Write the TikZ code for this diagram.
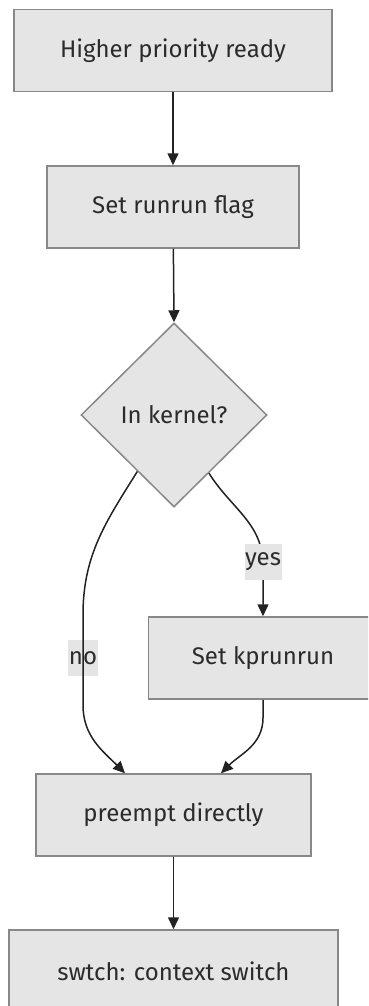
\documentclass[tikz,border=0pt]{standalone}
\usepackage{fontspec}
\setmainfont{Fira Sans}
\usetikzlibrary{shapes.geometric,arrows.meta,calc}
\definecolor{boxfill}{HTML}{E5E5E5}
\definecolor{boxline}{HTML}{888888}
\definecolor{ink}{HTML}{2B2B2B}
\definecolor{wire}{HTML}{222222}
\begin{document}
\begin{tikzpicture}[x=1pt,y=1pt,
  every node/.style={font=\fontsize{24}{28}\selectfont, text=ink},
  stepbox/.style={draw=boxline, fill=boxfill, line width=1.5pt, rectangle,
    inner sep=0pt, minimum height=82pt},
  decision/.style={draw=boxline, fill=boxfill, line width=1.5pt, diamond,
    inner sep=0pt, minimum width=186pt, minimum height=184pt},
  edgelabel/.style={fill=boxfill, inner sep=0.5pt, minimum height=36pt},
  flow/.style={draw=wire, line width=1.5pt, -{Triangle[length=12pt,width=11pt]}},
  plain/.style={draw=wire, line width=1.5pt}]
\useasboundingbox (0,0) rectangle (368,-1006);
\clip (0,0) rectangle (368,-1006);

% steps of the flow
\node[stepbox, minimum width=318pt] (ready) at (173,-50.5) {Higher priority ready};
\node[stepbox, minimum width=252pt] (runrun) at (173,-207) {Set runrun flag};
\node[decision] (kernel) at (174,-415) {In kernel?};
\node[stepbox, minimum width=229pt] (kprun) at (263,-658) {Set kprunrun};
\node[stepbox, minimum width=275pt] (preempt) at (173.5,-815) {preempt directly};
\node[stepbox, minimum width=329pt] (swtch) at (173.5,-971) {swtch: context switch};

% arrival points on the top of "preempt directly"
\coordinate (inL) at ($(preempt.north)+(-48.5,0)$);
\coordinate (inR) at ($(preempt.north)+(47.5,0)$);
\coordinate (noTop) at (83,-615);
\coordinate (noBot) at (83,-705);
\coordinate (yesBend) at (263,-565);
\coordinate (kpBend) at ($(kprun.south)+(0,-18)$);

% straight connectors
\draw[flow] (ready) -- (runrun);
\draw[flow] (runrun) -- (kernel.north);
\draw[flow] (preempt) -- (swtch);

% "no" branch: label sits under the line
\node[edgelabel] (nolbl) at (83,-658) {no};
\draw[flow] (kernel.237.7) to[out=238,in=90] (noTop) -- (noBot)
  to[out=-90,in=135] (inL);

% "yes" branch
\draw[flow] (kernel.301.6) to[out=-58,in=90] (yesBend) -- (kprun.north);
\node[edgelabel] (yeslbl) at (263,-562) {yes};

% from "Set kprunrun" down to "preempt directly"
\draw[flow] (kprun.south) -- (kpBend) to[out=-90,in=45] (inR);
\end{tikzpicture}
\end{document}
